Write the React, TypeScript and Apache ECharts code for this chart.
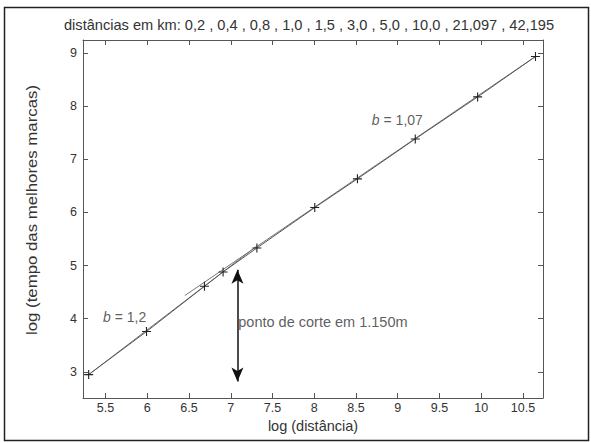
import React, { useEffect, useRef } from "react";
import * as echarts from "echarts";

const titleText =
  "distâncias em km: 0,2 , 0,4 , 0,8 , 1,0 , 1,5 , 3,0 , 5,0 , 10,0 , 21,097 , 42,195";
const xName = "log (distância)";
const yName = "log (tempo das melhores marcas)";

// log of distance (m) and log of record time (s)
const logDistance = [5.298, 5.991, 6.685, 6.908, 7.313, 8.006, 8.517, 9.21, 9.957, 10.65];
const logTime = [2.95, 3.76, 4.61, 4.88, 5.33, 6.09, 6.63, 7.38, 8.17, 8.93];

const xTicks = [5.5, 6, 6.5, 7, 7.5, 8, 8.5, 9, 9.5, 10, 10.5];
const yTicks = [3, 4, 5, 6, 7, 8, 9];

// regression fits: slope, anchor point, extent, label
const shortFit = { slope: 1.2, x0: 5.298, y0: 2.95, xFrom: 5.298, xTo: 7.3, label: "1,2", lx: 5.47, ly: 4.04 };
const longFit = { slope: 1.07, x0: 10.65, y0: 8.93, xFrom: 6.45, xTo: 10.65, label: "1,07", lx: 8.69, ly: 7.74 };

const cutoffX = 7.08; // ~ ln(1150)
const arrowTop = 4.92;
const arrowBottom = 2.82;
const cutoffText = "ponto de corte em 1.150m";
const cutoffTextPos = [7.09, 3.94];

const FONT = "Liberation Sans, Arial, sans-serif";
const AXIS = "#555";
const TXT = "#333";

function fitLine(f: typeof shortFit) {
  return [
    [f.xFrom, f.y0 + f.slope * (f.xFrom - f.x0)],
    [f.xTo, f.y0 + f.slope * (f.xTo - f.x0)],
  ];
}

export default function App() {
  const ref = useRef<HTMLDivElement>(null);
  useEffect(() => {
    document.body.style.margin = "0";
    const chart = echarts.init(ref.current!, null, { renderer: "svg" });
    const xMin = 5.23, xMax = 10.74, yMin = 2.51, yMax = 9.24;
    const baseX = {
      type: "value",
      min: xMin,
      max: xMax,
      splitLine: { show: false },
      axisLine: { show: true, onZero: false, lineStyle: { color: AXIS, width: 1 } },
      axisTick: { show: true, inside: true, length: 5, customValues: xTicks, lineStyle: { color: AXIS } },
    };
    const baseY = {
      type: "value",
      min: yMin,
      max: yMax,
      splitLine: { show: false },
      axisLine: { show: true, onZero: false, lineStyle: { color: AXIS, width: 1 } },
      axisTick: { show: true, inside: true, length: 5, customValues: yTicks, lineStyle: { color: AXIS } },
    };
    const labelSeries = (x: number, y: number, formatter: string, size: number) => ({
      type: "scatter",
      symbolSize: 0,
      silent: true,
      data: [[x, y]],
      label: {
        show: true,
        position: "right",
        distance: 0,
        formatter,
        color: TXT,
        fontSize: size,
        fontFamily: FONT,
        rich: {
          i: { fontStyle: "italic", color: TXT, fontSize: size, fontFamily: FONT },
          n: { color: TXT, fontSize: size, fontFamily: FONT },
        },
      },
    });
    chart.setOption({
      animation: false,
      grid: { left: 83, right: 48, top: 40, bottom: 45 },
      graphic: [
        {
          type: "rect",
          shape: { x: 4.5, y: 7.5, width: 584, height: 433 },
          style: { fill: "none", stroke: "#222", lineWidth: 1.5 },
        },
        {
          type: "text",
          x: 309,
          y: 25,
          style: {
            text: titleText,
            textAlign: "center",
            textVerticalAlign: "middle",
            fill: TXT,
            font: `14.6px ${FONT}`,
          },
        },
        {
          type: "text",
          x: 32,
          y: 210,
          rotation: Math.PI / 2,
          scaleX: 1.12,
          style: {
            text: yName,
            textAlign: "center",
            textVerticalAlign: "middle",
            fill: TXT,
            font: `15px ${FONT}`,
          },
        },
      ],
      xAxis: [
        {
          ...baseX,
          position: "bottom",
          axisLabel: { customValues: xTicks, color: TXT, fontSize: 12.5, fontFamily: FONT, margin: 3 },
          name: xName,
          nameLocation: "middle",
          nameGap: 12,
          nameTextStyle: { color: TXT, fontSize: 14.5, fontFamily: FONT },
        },
        { ...baseX, position: "top", axisLabel: { show: false } },
      ],
      yAxis: [
        {
          ...baseY,
          position: "left",
          axisLabel: { customValues: yTicks, color: TXT, fontSize: 12.5, fontFamily: FONT, margin: 6 },
        },
        { ...baseY, position: "right", axisLabel: { show: false } },
      ],
      series: [
        {
          type: "line",
          data: fitLine(shortFit),
          symbol: "none",
          silent: true,
          lineStyle: { color: "#777", width: 1 },
        },
        {
          type: "line",
          data: fitLine(longFit),
          symbol: "none",
          silent: true,
          lineStyle: { color: "#777", width: 1 },
        },
        {
          type: "line",
          data: logDistance.map((x, i) => [x, logTime[i]]),
          symbol: "path://M5 0 L5 10 M0 5 L10 5",
          symbolSize: 9,
          silent: true,
          lineStyle: { color: "#555", width: 1 },
          itemStyle: { color: "#222", borderColor: "#222", borderWidth: 1.1 },
        },
        {
          type: "line",
          data: [],
          silent: true,
          markLine: {
            silent: true,
            symbol: ["arrow", "arrow"],
            symbolSize: [9, 14],
            label: { show: false },
            lineStyle: { color: "#111", width: 1.5, type: "solid" },
            data: [[{ coord: [cutoffX, arrowTop] }, { coord: [cutoffX, arrowBottom] }]],
          },
        },
        labelSeries(shortFit.lx, shortFit.ly, `{i|b}{n| = ${shortFit.label}}`, 14),
        labelSeries(longFit.lx, longFit.ly, `{i|b}{n| = ${longFit.label}}`, 14),
        labelSeries(cutoffTextPos[0], cutoffTextPos[1], cutoffText, 14.5),
      ],
    });
    return () => chart.dispose();
  }, []);
  return <div ref={ref} style={{ width: 591, height: 443 }} />;
}
